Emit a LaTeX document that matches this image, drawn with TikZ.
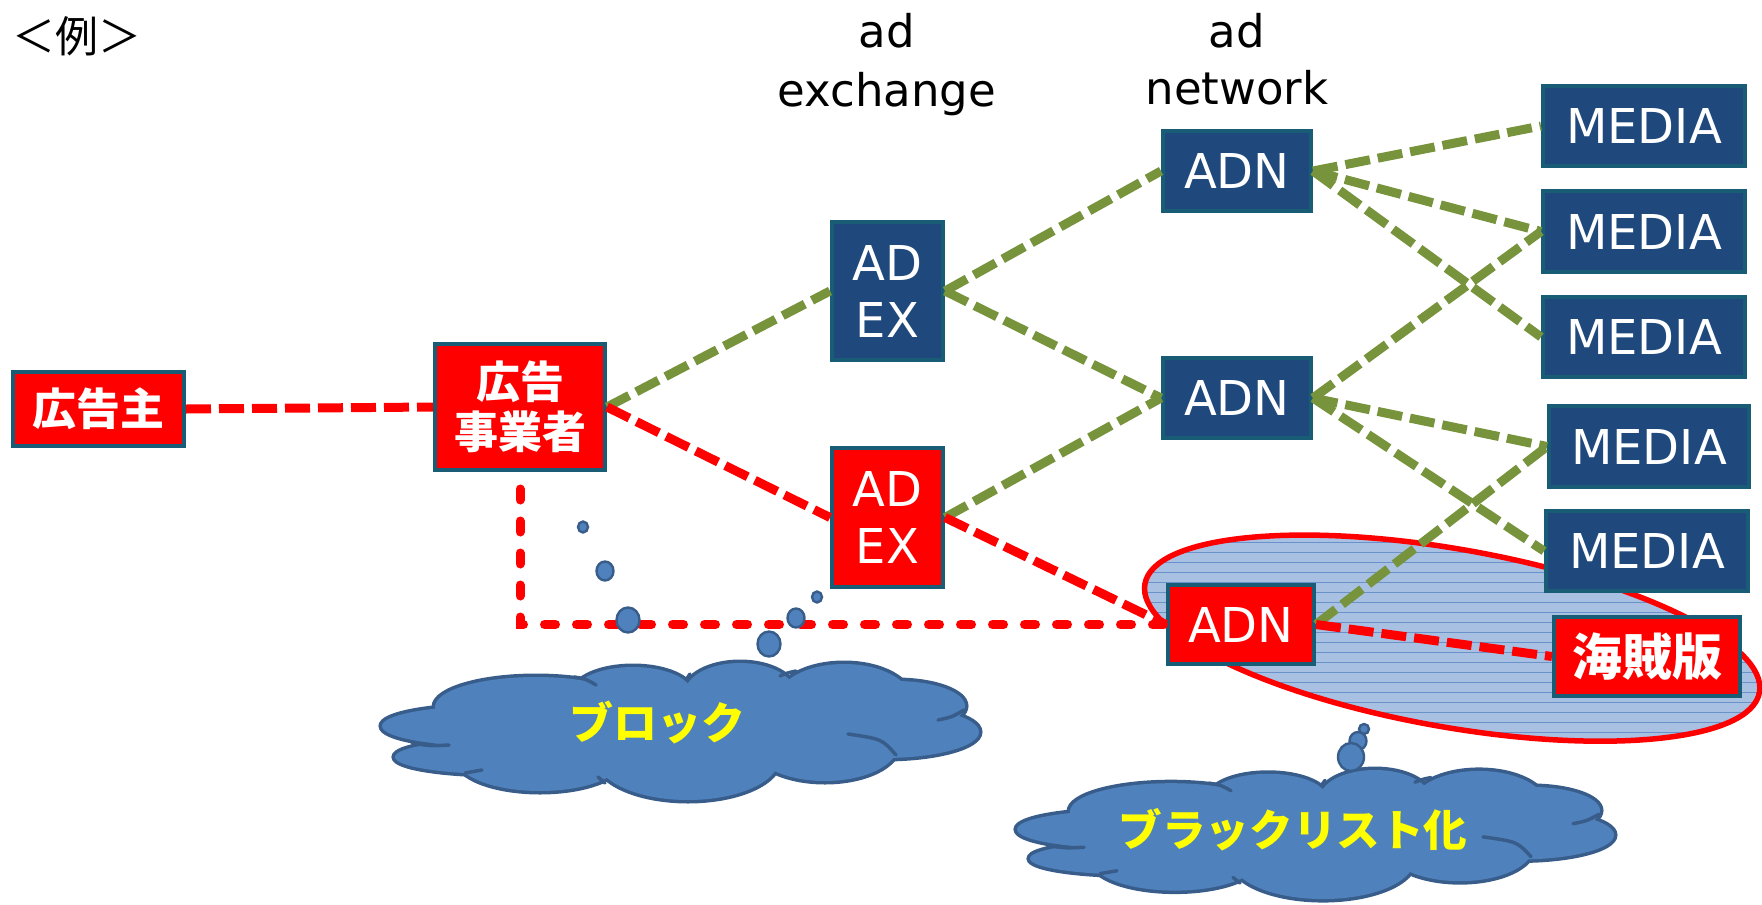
\documentclass[tikz,border=0pt]{standalone}
\usepackage{fontspec}
\setmainfont{DejaVu Sans}
\newfontfamily\jp{Noto Sans CJK JP}
\usetikzlibrary{shapes.geometric}
\definecolor{boxblue}{RGB}{31,73,125}
\definecolor{boxborder}{RGB}{24,92,117}
\definecolor{lineGreen}{RGB}{119,147,60}
\definecolor{cloudfill}{RGB}{79,129,189}
\definecolor{cloudline}{RGB}{56,93,138}
\definecolor{ellfill}{RGB}{168,193,226}
\definecolor{ellline}{RGB}{105,145,202}
\definecolor{txtyellow}{RGB}{255,255,0}
\newcommand{\cloudlobes}{107/63/107/20, 118/94/105/17, 154/44/101/30, 251/30/59/26, 358/30/55/30, 462/37/67/36, 514/43/69/25, 502/69/95/26, 443/82/73/36, 306/96/91/41, 158/96/83/32, 298/67/240/45}
\newcommand{\pptcloudbody}{%
  \foreach \cx/\cy/\rx/\ry in \cloudlobes
    \draw[cloudline, line width=3.5pt] (\cx,\cy) ellipse [x radius=\rx, y radius=\ry];
  \foreach \cx/\cy/\rx/\ry in \cloudlobes
    \fill[cloudfill] (\cx,\cy) ellipse [x radius=\rx, y radius=\ry];
  \draw[cloudline, line width=1.75pt, line cap=round]
    (30,80) .. controls (48,83) .. (67,82)
    (192,14) .. controls (204,16) .. (214,22)
    (556,57) .. controls (570,54) .. (582,47)
    (466,71) .. controls (500,76) .. (514,92)
    (83,110) .. controls (92,108) .. (100,107)
    (304,17) -- (308,11)
    (398,13) .. controls (405,10) .. (414,8)
    (216,114) -- (223,120);
}
\begin{document}
\begin{tikzpicture}[x=0.5pt,y=-0.5pt,
  box/.style={draw=boxborder, line width=2pt, inner sep=0pt, align=center, text=white},
  bluebox/.style={box, fill=boxblue, font=\fontsize{24}{28.5}\selectfont},
  redlatin/.style={box, fill=red, font=\fontsize{24}{28.5}\selectfont},
  jpbox/.style={box, fill=red, font=\jp\bfseries\fontsize{22}{25}\selectfont},
  sqdash/.style={line width=4.5pt, dash pattern=on 12.5pt off 4pt},
  gline/.style={sqdash, draw=lineGreen},
  rline/.style={sqdash, draw=red},
  rround/.style={line width=4.5pt, draw=red, line cap=round, dash pattern=on 5.5pt off 10.5pt},
  bubble/.style={ellipse, draw=cloudline, fill=cloudfill, line width=1.2pt, inner sep=0pt},
  head/.style={font=\fontsize{22.5}{29.5}\selectfont, anchor=base, inner sep=0pt},
  cloudtext/.style={text=txtyellow, inner sep=0pt}
]
\useasboundingbox (0,0) rectangle (1762,905);

% blacklist ellipse
\coordinate (ec) at (1452,638);
\begin{scope}
  \clip[rotate around={-10:(ec)}] (ec) ellipse [x radius=156pt, y radius=44.5pt];
  \fill[ellfill] (1100,500) rectangle (1762,760);
  \foreach \yy in {522,532,...,752} \draw[ellline, line width=0.4pt] (1100,\yy) -- (1762,\yy);
\end{scope}
\draw[red, line width=2.75pt, rotate around={-10:(ec)}] (ec) ellipse [x radius=156pt, y radius=44.5pt];

% nodes
\node[jpbox, minimum width=85.5pt, minimum height=37pt] (adv) at (98.5,409) {広告主};
\node[jpbox, minimum width=85pt, minimum height=63pt] (biz) at (520,407) {広告\\事業者};
\node[bluebox, minimum width=55.5pt, minimum height=69pt] (exb) at (887.5,291) {AD\\EX};
\node[redlatin, minimum width=55.5pt, minimum height=69.5pt] (exr) at (887.5,517.5) {AD\\EX};
\node[bluebox, minimum width=74pt, minimum height=40pt] (n1) at (1237,171) {ADN};
\node[bluebox, minimum width=74pt, minimum height=40pt] (n2) at (1237,398) {ADN};
\node[redlatin, minimum width=73pt, minimum height=39.5pt] (n3) at (1241,624.5) {ADN};
\node[bluebox, minimum width=101pt, minimum height=40pt] (m1) at (1644,126) {MEDIA};
\node[bluebox, minimum width=101pt, minimum height=40.5pt] (m2) at (1644,231.5) {MEDIA};
\node[bluebox, minimum width=101pt, minimum height=40pt] (m3) at (1644,337) {MEDIA};
\node[bluebox, minimum width=100pt, minimum height=40.5pt] (m4) at (1649,446.5) {MEDIA};
\node[bluebox, minimum width=101pt, minimum height=40pt] (m5) at (1647,551) {MEDIA};
\node[jpbox, font=\jp\bfseries\fontsize{25}{28}\selectfont, minimum width=93pt, minimum height=39.5pt] (pir) at (1647,656.5) {海賊版};

% headers
\node[font=\jp\fontsize{21.5}{25}\selectfont, anchor=base west, inner sep=0pt] (ex) at (12,52) {＜例＞};
\node[head] (h1a) at (887,47) {ad};
\node[head] (h1b) at (887,106) {exchange};
\node[head] (h2a) at (1237,47) {ad};
\node[head] (h2b) at (1237,104) {network};

% connectors
\draw[rline] (adv.east) -- (biz.west);
\draw[gline] (biz.east) -- (exb.west);
\draw[rline] (biz.east) -- (exr.west);
\draw[gline] (exb.east) -- (n1.west);
\draw[gline] (exb.east) -- (n2.west);
\draw[gline] (exr.east) -- (n2.west);
\draw[rline] (exr.east) -- (n3.west);
\draw[gline] (n1.east) -- (m1.west);
\draw[gline] (n1.east) -- (m2.west);
\draw[gline] (n1.east) -- (m3.west);
\draw[gline] (n2.east) -- (m2.west);
\draw[gline] (n2.east) -- (m4.west);
\draw[gline] (n2.east) -- (m5.west);
\draw[gline] (n3.east) -- (m4.west);
\draw[rline] (n3.east) -- (pir.west);
\draw[rround] ([yshift=-8.5pt]biz.south) |- (n3.west);

% clouds
\begin{scope}[shift={(382,663)}]
  \pptcloudbody
\end{scope}
\begin{scope}[shift={(1017,770)}, yscale=0.942]
  \pptcloudbody
\end{scope}
\node[cloudtext, font=\jp\bfseries\fontsize{22}{26}\selectfont] (t1) at (657,723) {ブロック};
\node[cloudtext, font=\jp\bfseries\fontsize{21.8}{26}\selectfont] (t2) at (1293,830) {ブラックリスト化};

% thought bubbles
\node[bubble, minimum width=5pt, minimum height=5.5pt] (b1) at (583,527) {};
\node[bubble, minimum width=8.5pt, minimum height=9.5pt] (b2) at (605,571) {};
\node[bubble, minimum width=11.5pt, minimum height=12.5pt] (b3) at (628,620) {};
\node[bubble, minimum width=5pt, minimum height=5.5pt] (b4) at (817,597) {};
\node[bubble, minimum width=8.5pt, minimum height=9.5pt] (b5) at (796,618) {};
\node[bubble, minimum width=11.5pt, minimum height=12.5pt] (b6) at (769,644) {};
\node[bubble, minimum width=5pt, minimum height=5pt] (b7) at (1364,729) {};
\node[bubble, minimum width=8.5pt, minimum height=9pt] (b8) at (1358,741) {};
\node[bubble, minimum width=13pt, minimum height=14pt] (b9) at (1351,757) {};
\end{tikzpicture}
\end{document}
